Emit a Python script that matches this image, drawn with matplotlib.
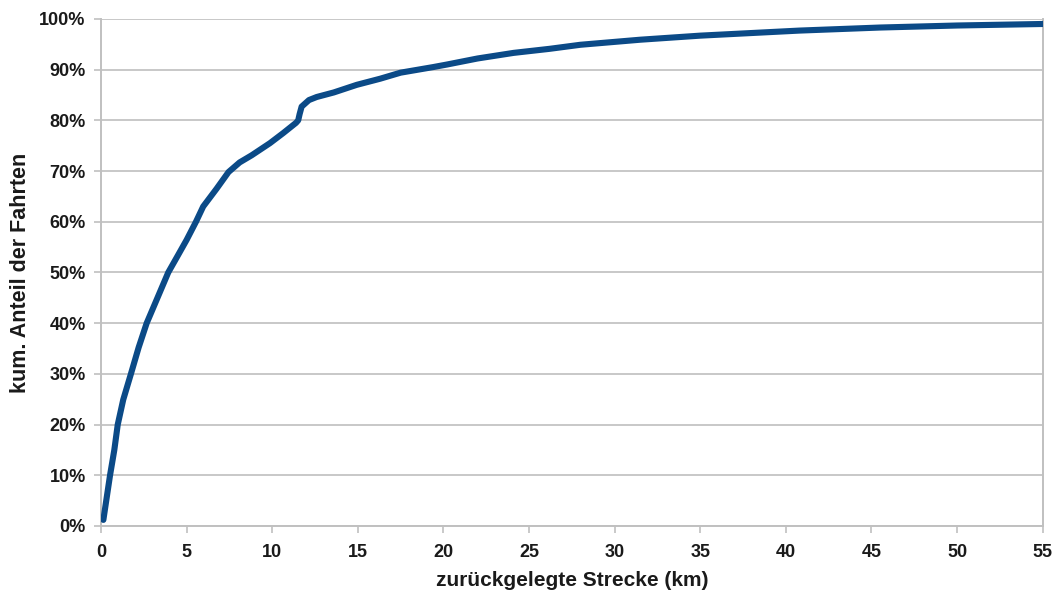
import matplotlib
matplotlib.use("Agg")
import matplotlib.pyplot as plt
from matplotlib.ticker import FuncFormatter

# distance travelled (km) and cumulative share of trips (%)
strecke_km = [0.14, 0.53, 0.78, 0.98, 1.30, 1.75, 2.2, 2.67, 3.25, 3.93,
              4.5, 5.0, 5.55, 5.97, 6.75, 7.45, 8.1, 8.8, 9.87, 10.65, 11.39,
              11.52, 11.6, 11.72, 12.15, 12.6, 13.6, 14.94, 16.3, 17.5,
              19.4, 20.2, 22.0, 24.1, 26.2, 28.0, 31.5, 35.0, 40.8, 45.5,
              50.0, 55.0]
anteil_pct = [1.2, 10.0, 15.0, 20.0, 24.9, 30.0, 35.2, 40.0, 44.6, 50.0,
              53.4, 56.4, 60.0, 63.0, 66.5, 69.8, 71.7, 73.1, 75.5, 77.5, 79.5,
              80.0, 81.2, 82.7, 84.0, 84.6, 85.5, 87.0, 88.2, 89.4,
              90.5, 91.0, 92.2, 93.3, 94.1, 94.9, 95.9, 96.7, 97.7, 98.3,
              98.7, 99.0]

x_ticks = list(range(0, 56, 5))
y_ticks = list(range(0, 101, 10))

plt.rcParams["font.family"] = ["Liberation Sans", "DejaVu Sans"]
plt.rcParams["font.weight"] = "bold"

fig = plt.figure(figsize=(10.55, 5.91), dpi=100)
ax = fig.add_axes([0.0957, 0.110, 0.8926, 0.858])

ax.plot(strecke_km, anteil_pct, color="#0b4a87", linewidth=4.4,
        solid_capstyle="round", solid_joinstyle="round", zorder=3)

ax.set_xlim(0, 55)
ax.set_ylim(0, 100)
ax.set_xticks(x_ticks)
ax.set_yticks(y_ticks)
ax.yaxis.set_major_formatter(FuncFormatter(lambda v, _: f"{v:.0f}%"))

ax.grid(axis="y", color="#c8c8c8", linewidth=1.4, zorder=0)
for side in ["left", "bottom", "right", "top"]:
    ax.spines[side].set_color("#c0c0c0")
    ax.spines[side].set_linewidth(1.4)
ax.spines["top"].set_visible(False)

ax.tick_params(axis="both", colors="#c0c0c0", length=5, width=1.2,
               labelcolor="#1a1a1a", labelsize=13)
ax.tick_params(axis="x", pad=8)
ax.tick_params(axis="y", pad=6)

ax.set_xlabel("zurückgelegte Strecke (km)", fontsize=15, fontweight="bold",
              color="#1a1a1a", labelpad=7)
ax.set_ylabel("kum. Anteil der Fahrten", fontsize=15.5, fontweight="bold",
              color="#1a1a1a", labelpad=6)

fig.savefig("out.png", dpi=100)
